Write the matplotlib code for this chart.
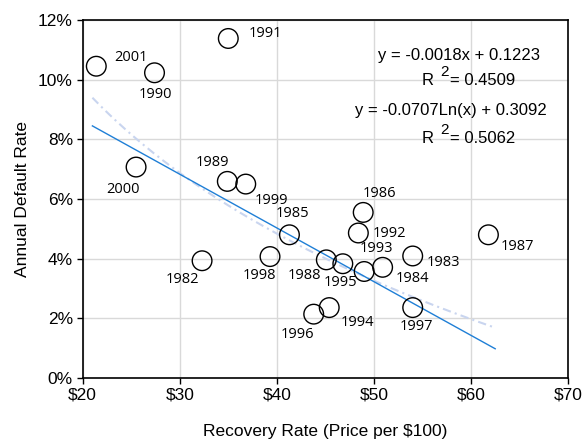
import numpy as np
import matplotlib
matplotlib.use('Agg')
import matplotlib.pyplot as plt
from matplotlib.ticker import FuncFormatter

# recovery rate ($ per $100) and annual default rate (%) by year
years = ['1982', '1983', '1984', '1985', '1986', '1987', '1988', '1989', '1990', '1991',
         '1992', '1993', '1994', '1995', '1996', '1997', '1998', '1999', '2000', '2001']
recovery = [32.3, 54.0, 50.9, 41.3, 48.9, 61.8, 45.1, 34.9, 27.4, 35.0,
            48.4, 49.0, 45.4, 46.8, 43.8, 54.0, 39.3, 36.8, 25.5, 21.4]
default_rate = [3.93, 4.09, 3.71, 4.80, 5.55, 4.80, 3.96, 6.59, 10.23, 11.38,
                4.86, 3.57, 2.36, 3.83, 2.14, 2.36, 4.07, 6.50, 7.07, 10.45]

# fitted trends (default rate as a fraction)
lin_slope, lin_icpt, lin_r2 = -0.0018, 0.1223, 0.4509
log_coef, log_icpt, log_r2 = -0.0707, 0.3092, 0.5062

# label offsets in pixels (dx, dy), dy positive = up
label_off = {
    '1982': (-20, -19), '1983': (31, -7), '1984': (30, -11), '1985': (3, 21),
    '1986': (16, 19), '1987': (29, -12), '1988': (-22, -16), '1989': (-15, 19),
    '1990': (1, -22), '1991': (37, 5), '1992': (31, 0), '1993': (12, 23),
    '1994': (28, -15), '1995': (-2, -19), '1996': (-16, -20), '1997': (4, -19),
    '1998': (-11, -19), '1999': (26, -16), '2000': (-13, -22), '2001': (35, 9),
}

plt.rcParams['font.family'] = ['Open Sans', 'DejaVu Sans']

fig = plt.figure(figsize=(5.84, 4.42), dpi=100)
ax = fig.add_axes([0.1416, 0.1448, 0.831, 0.81])

ax.set_xlim(20, 70)
ax.set_ylim(0, 12)
ax.set_xticks(np.arange(20, 71, 10))
ax.set_yticks(np.arange(0, 13, 2))
ax.grid(True, color='#d9d9d9', linewidth=1)
ax.set_axisbelow(True)
for s in ax.spines.values():
    s.set_linewidth(1.2)
    s.set_color('black')

sans = ['Liberation Sans', 'DejaVu Sans']
ax.xaxis.set_major_formatter(FuncFormatter(lambda v, p: f'${v:.0f}'))
ax.yaxis.set_major_formatter(FuncFormatter(lambda v, p: f'{v:.0f}%'))
ax.tick_params(direction='out', length=4, width=1, labelsize=12.5, pad=3)
for lab in ax.get_xticklabels() + ax.get_yticklabels():
    lab.set_family(sans)
ax.set_xlabel('Recovery Rate (Price per $100)', family=sans, fontsize=12.5, labelpad=15)
ax.set_ylabel('Annual Default Rate', family=sans, fontsize=12.5, labelpad=6)

# trend lines over the data range
xs = np.linspace(min(recovery) - 0.4, max(recovery) + 0.7, 200)
ax.plot(xs, 100 * (log_coef * np.log(xs) + log_icpt), color='#c9d5ef',
        linewidth=1.5, dashes=(4, 2, 1, 2), zorder=2)
ax.plot(xs, 100 * (lin_slope * xs + lin_icpt), color='#1f7fd6', linewidth=1.0, zorder=3)

ax.scatter(recovery, default_rate, s=200, facecolors='none', edgecolors='black',
           linewidths=1.0, zorder=4)

for yr, x, y in zip(years, recovery, default_rate):
    dx, dy = label_off[yr]
    ax.annotate(yr, (x, y), xytext=(dx * 0.72, dy * 0.72), textcoords='offset points',
                ha='center', va='center', fontsize=10.5, zorder=5)

# trend equations, with R^2 drawn as R, raised 2, then the value
eq_kw = dict(xycoords='axes fraction', textcoords='offset points', va='baseline',
             family=sans)


def r2_label(x, y, val):
    ax.annotate('R', (x, y), xytext=(-11.5, 0), ha='right', fontsize=12, **eq_kw)
    ax.annotate('2', (x, y), xytext=(-1.2, 6.5), ha='right', fontsize=11, **eq_kw)
    ax.annotate(f'= {val:.4f}', (x, y), xytext=(0, 0), ha='left', fontsize=12, **eq_kw)


ax.annotate(f'y = {lin_slope:.4f}x + {lin_icpt:.4f}', (0.775, 0.888), xytext=(0, 0),
            ha='center', fontsize=12, **eq_kw)
r2_label(0.757, 0.818, lin_r2)
ax.annotate(f'y = {log_coef:.4f}Ln(x) + {log_icpt:.4f}', (0.759, 0.735), xytext=(0, 0),
            ha='center', fontsize=12, **eq_kw)
r2_label(0.757, 0.656, log_r2)

fig.savefig('out.png', dpi=100)
